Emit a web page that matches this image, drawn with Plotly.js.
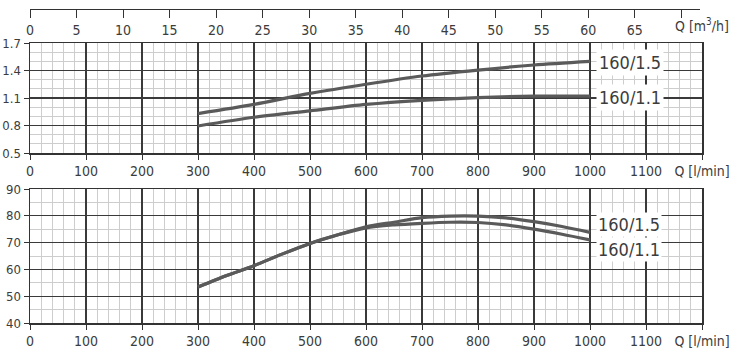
<!DOCTYPE html>
<html><head><meta charset="utf-8">
<script src="https://cdn.plot.ly/plotly-3.0.1.min.js"></script>
<style>html,body{margin:0;padding:0;background:#fff}#c{width:744px;height:358px}</style>
</head><body><div id="c"></div>
<script>
// Flow (l/min)
const qTop = [300, 400, 500, 600, 700, 800, 900, 1000];
const p15 = [0.93, 1.03, 1.15, 1.25, 1.34, 1.405, 1.46, 1.50];
const p11 = [0.795, 0.89, 0.96, 1.03, 1.075, 1.105, 1.12, 1.12];

const qBot = [300, 350, 400, 450, 500, 550, 600, 650, 700, 750, 800, 850, 900, 950, 1000];
const e15 = [53.4, 57.6, 61.4, 65.7, 69.7, 72.9, 75.9, 77.6, 79.3, 79.9, 79.9, 79.2, 77.8, 76.0, 73.8];
const e11 = [53.4, 57.6, 61.4, 65.7, 69.7, 72.9, 75.5, 76.6, 77.2, 77.6, 77.5, 76.6, 75.0, 73.1, 71.0];

const seriesNames = ['160/1.5', '160/1.1'];
const lpmTicks = [0, 100, 200, 300, 400, 500, 600, 700, 800, 900, 1000, 1100, 1200];
const lpmText = ['0','100','200','300','400','500','600','700','800','900','1000','1100','Q [l/min]'];
const m3hTicks = [0, 5, 10, 15, 20, 25, 30, 35, 40, 45, 50, 55, 60, 65];
const m3hText = ['0','5','10','15','20','25','30','35','40','45','50','55','60','65'];
const m3hExtraTick = [70];
const topYTicks = [0.5, 0.8, 1.1, 1.4, 1.7];
const botYTicks = [40, 50, 60, 70, 80, 90];

const lineCol = '#5a5a5a';
const fam = '"Liberation Sans Narrow", "DejaVu Sans Condensed", "Liberation Sans", sans-serif';
const font = {family: fam, size: 14, color: '#3c3c3c'};
const yFont = {family: fam, size: 13, color: '#3c3c3c'};
const labFont = {family: fam, size: 18, color: '#3c3c3c'};
const mk = (x, y, xa, ya, name) => ({x, y, xaxis: xa, yaxis: ya, name, type: 'scatter', mode: 'lines',
  line: {color: lineCol, width: 3.2, shape: 'spline', smoothing: 0.8}, hoverinfo: 'skip'});

const traces = [
  mk(qTop, p15, 'x', 'y', seriesNames[0]),
  mk(qTop, p11, 'x', 'y', seriesNames[1]),
  mk(qBot, e15, 'x2', 'y2', seriesNames[0]),
  mk(qBot, e11, 'x2', 'y2', seriesNames[1]),
  {x: [], y: [], xaxis: 'x3', yaxis: 'y3', type: 'scatter', mode: 'lines', showlegend: false, hoverinfo: 'skip'}
];

const W = 744, H = 358;
const xd = [30 / W, 702 / W];
const py = p => 1 - p / H;
const minorGrid = '#cdcdcd';

const gridX = {
  range: [0, 1200], tickvals: lpmTicks, ticktext: lpmText, ticks: 'outside', ticklen: 5, tickcolor: '#333',
  showgrid: true, gridcolor: '#3a3a3a', gridwidth: 1.2,
  minor: {dtick: 20, tick0: 0, showgrid: true, gridcolor: minorGrid, gridwidth: 1},
  showline: true, mirror: true, linecolor: '#333', linewidth: 1.5, zeroline: false, fixedrange: true,
  tickfont: font, domain: xd
};

const layout = {
  width: W, height: H, margin: {l: 0, r: 0, t: 0, b: 0},
  paper_bgcolor: '#fff', plot_bgcolor: 'rgba(0,0,0,0)', showlegend: false, font: font,
  xaxis: Object.assign({}, gridX, {anchor: 'y'}),
  xaxis2: Object.assign({}, gridX, {anchor: 'y2'}),
  xaxis3: {range: [0, 72], tickvals: m3hTicks, ticktext: m3hText, ticks: 'outside', ticklen: 8,
    tickcolor: '#333', showgrid: false, showline: true, linecolor: '#333', linewidth: 1.3,
    minor: {tickvals: m3hExtraTick, ticks: 'outside', ticklen: 8, tickcolor: '#333', showgrid: false},
    anchor: 'y3', side: 'bottom', domain: [30 / W, 700 / W], zeroline: false,
    tickfont: font, fixedrange: true},
  yaxis3: {domain: [py(9), py(1)], visible: false, range: [0, 1], fixedrange: true, anchor: 'x3'},
  yaxis: {range: [0.5, 1.7], tickvals: topYTicks, ticktext: topYTicks.map(v => v.toFixed(1)),
    domain: [py(153), py(43)], ticks: 'outside', ticklen: 5, tickcolor: '#333',
    showgrid: true, gridcolor: '#3a3a3a', gridwidth: 1.2,
    minor: {dtick: 0.1, tick0: 0.5, showgrid: true, gridcolor: minorGrid, gridwidth: 1},
    showline: true, mirror: true, linecolor: '#333', linewidth: 1.5, zeroline: false, tickfont: yFont,
    anchor: 'x', fixedrange: true},
  yaxis2: {range: [40, 90], tickvals: botYTicks, domain: [py(323), py(189)], ticks: 'outside', ticklen: 5,
    tickcolor: '#333', showgrid: true, gridcolor: '#3a3a3a', gridwidth: 1.2,
    minor: {dtick: 5, tick0: 40, showgrid: true, gridcolor: minorGrid, gridwidth: 1},
    showline: true, mirror: true, linecolor: '#333', linewidth: 1.5, zeroline: false, tickfont: yFont,
    anchor: 'x2', fixedrange: true},
  annotations: [
    {xref: 'paper', yref: 'paper', x: 673 / W, y: py(25), text: 'Q [m<sup>3</sup>/h]', showarrow: false,
      xanchor: 'left', yanchor: 'middle', font: font},
    {xref: 'x', yref: 'y', x: 1010, y: 1.49, text: seriesNames[0], showarrow: false, xanchor: 'left',
      yanchor: 'middle', bgcolor: '#fff', borderpad: 2, font: labFont},
    {xref: 'x', yref: 'y', x: 1010, y: 1.11, text: seriesNames[1], showarrow: false, xanchor: 'left',
      yanchor: 'middle', bgcolor: '#fff', borderpad: 2, font: labFont},
    {xref: 'x2', yref: 'y2', x: 1010, y: 76.6, text: seriesNames[0], showarrow: false, xanchor: 'left',
      yanchor: 'middle', bgcolor: '#fff', borderpad: 1, font: labFont},
    {xref: 'x2', yref: 'y2', x: 1010, y: 67.3, text: seriesNames[1], showarrow: false, xanchor: 'left',
      yanchor: 'middle', bgcolor: '#fff', borderpad: 1, font: labFont}
  ]
};

Plotly.newPlot('c', traces, layout, {staticPlot: true, displayModeBar: false});
</script></body></html>
